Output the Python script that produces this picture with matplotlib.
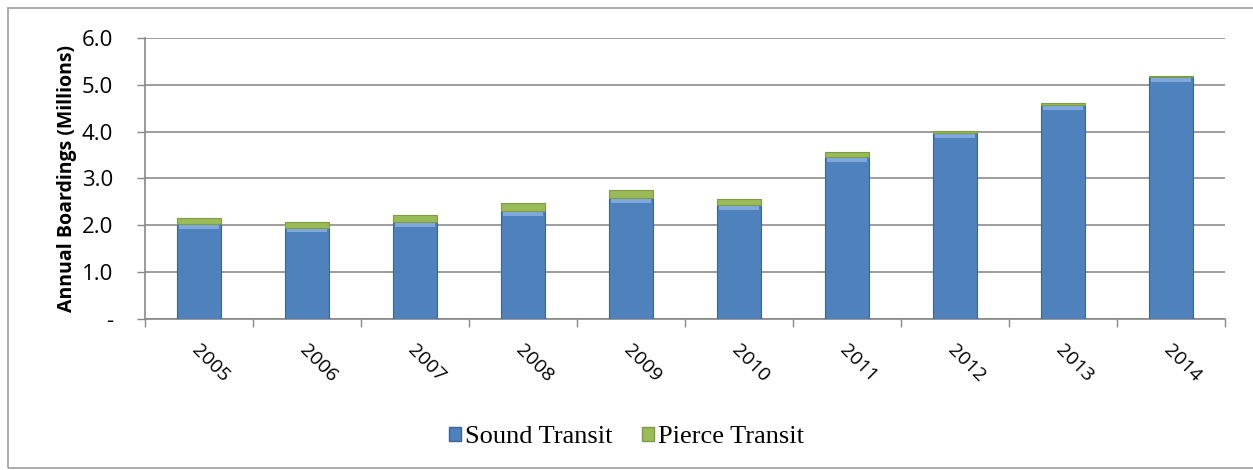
import matplotlib.pyplot as plt
import matplotlib.patches as mpatches
import numpy as np

years = ['2005', '2006', '2007', '2008', '2009', '2010', '2011', '2012', '2013', '2014']
sound_transit = [2.03, 1.95, 2.07, 2.30, 2.58, 2.43, 3.45, 3.97, 4.57, 5.16]
pierce_transit = [0.12, 0.13, 0.14, 0.18, 0.17, 0.13, 0.11, 0.05, 0.05, 0.03]

blue = '#4F81BD'
green = '#9BBB59'

fig = plt.figure(figsize=(12.53, 4.70), dpi=100)
ax = fig.add_axes([0.1157, 0.3213, 0.862, 0.598])

x = np.arange(len(years))
w = 0.41
ax.bar(x, sound_transit, w, color=blue, edgecolor='#3A6496', linewidth=0.8, zorder=3)
ax.bar(x, pierce_transit, w, bottom=sound_transit, color=green, edgecolor='#7D9B42',
       linewidth=0.8, zorder=3)
# light bevel at top of the blue bars
ax.bar(x, [0.08] * len(x), w * 0.9, bottom=np.array(sound_transit) - 0.1,
       color='#7FA9DC', linewidth=0, zorder=4)

ax.set_xlim(-0.5, len(years) - 0.5)
ax.set_ylim(0, 6.0)
ax.set_yticks(np.arange(0, 6.5, 1.0))
ax.set_yticklabels(['-', '1.0', '2.0', '3.0', '4.0', '5.0', '6.0'],
                   fontsize=16, family='Open Sans')
ax.set_xticks(np.arange(-0.5, len(years), 1.0), minor=False)
ax.set_xticklabels([])
# year labels sit a little left of the bar centres, as in the original
ax.set_xticks(x - 0.1, minor=True)
ax.set_xticklabels(years, minor=True, rotation=-45, ha='left', va='top',
                   fontsize=14, family='Open Sans')
ax.tick_params(axis='x', which='major', length=6, color='#888888', width=1)
ax.tick_params(axis='x', which='minor', length=0, pad=16)
ax.tick_params(axis='y', length=6, color='#888888', width=1, pad=17)

ax.grid(axis='y', color='#8C8C8C', linewidth=1.2, zorder=0)
for s in ['top', 'right']:
    ax.spines[s].set_visible(False)
for s in ['left', 'bottom']:
    ax.spines[s].set_color('#888888')
    ax.spines[s].set_linewidth(1.2)

ax.set_ylabel('Annual Boardings (Millions)', fontsize=14, fontweight='bold',
              family='Open Sans', labelpad=3)

handles = [mpatches.Patch(facecolor=blue, edgecolor='#3A6496', label='Sound Transit'),
           mpatches.Patch(facecolor=green, edgecolor='#7D9B42', label='Pierce Transit')]
fig.legend(handles=handles, loc='center', bbox_to_anchor=(0.5, 0.07), ncol=2,
           frameon=False, prop={'family': 'Liberation Serif', 'size': 19},
           handlelength=0.45, handleheight=0.45, handletextpad=0.15, columnspacing=1.1)

# outer chart border
fig.patches.append(mpatches.Rectangle((0.006, 0.005), 1.1, 0.978, transform=fig.transFigure,
                                      fill=False, edgecolor='#A0A0A0', linewidth=1.2))

plt.savefig('out.png', dpi=100)
